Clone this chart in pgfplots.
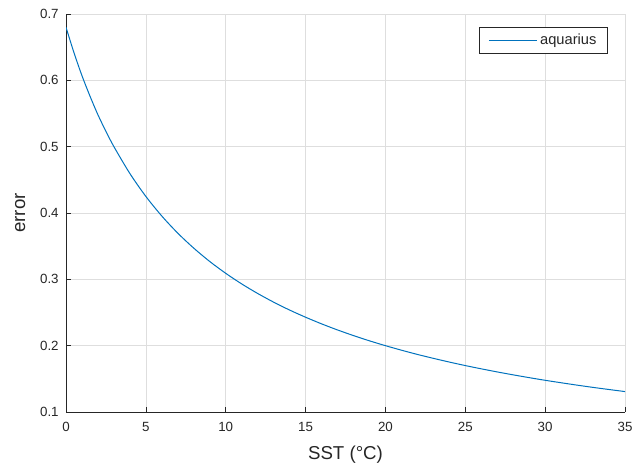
\documentclass[border=0pt]{standalone}
\usepackage{pgfplots}
\pgfplotsset{compat=1.18}
\usepackage{fontspec}
\setmainfont{Liberation Sans}
\definecolor{mblue}{rgb}{0,0.447,0.741}
\definecolor{axgray}{rgb}{0.15,0.15,0.15}
\definecolor{gridgray}{rgb}{0.87,0.87,0.87}
\begin{document}
\begin{tikzpicture}
\begin{axis}[
  scale only axis,
  width=419.25pt, height=298.5pt,
  xmin=0, xmax=35, ymin=0.1, ymax=0.7,
  xtick={0,5,...,35},
  ytick={0.1,0.2,0.3,0.4,0.5,0.6,0.7},
  axis x line*=bottom, axis y line*=left,
  axis line style={axgray, line width=0.6pt},
  tick align=inside,
  major tick length=4pt,
  tick style={axgray, line width=0.5pt},
  grid=major,
  major grid style={gridgray, line width=0.5pt},
  /pgf/number format/assume math mode=true,
  yticklabel style={/pgf/number format/fixed,/pgf/number format/precision=1, xshift=-2pt},
  xticklabel style={yshift=-4pt},
  ticklabel style={font=\fontsize{10}{12}\selectfont, text=axgray},
  xlabel={SST (°C)}, ylabel={error},
  label style={font=\fontsize{14}{16}\selectfont, text=axgray},
  xlabel style={at={(axis description cs:0.5,-0.12)}, anchor=base},
  ylabel style={at={(axis description cs:-0.0733,0.5)}, anchor=base},
  legend style={at={(0.9696,0.967)}, anchor=north east, draw=axgray,
    font=\fontsize{11}{13}\selectfont, text=axgray, inner xsep=6.5pt, inner ysep=3pt},
  legend cell align=left,
  legend image code/.code={\draw[mblue, line width=0.9pt] (0pt,0pt) -- (36pt,0pt);},
]
\coordinate (sw) at (rel axis cs:0,0);
\coordinate (ne) at (rel axis cs:1,1);
\addplot[mblue, line width=0.75pt, smooth] coordinates {
(0,0.680) (0.5,0.6416) (1,0.607) (1.5,0.5763) (2,0.548) (2.5,0.5231) (3,0.500) (4,0.4595) (5,0.425)
(6,0.3954) (7,0.3696) (8,0.3470) (9,0.3269) (10,0.3091) (11,0.2931) (12,0.2787)
(13,0.2656) (14,0.2537) (15,0.2429) (16,0.2329) (17,0.2237) (18,0.2152) (19,0.2073)
(20,0.2000) (21,0.1932) (22,0.1868) (23,0.1809) (24,0.1753) (25,0.1700) (26,0.1651)
(27,0.1604) (28,0.1560) (29,0.1518) (30,0.1478) (31,0.1441) (32,0.1405) (33,0.1371)
(34,0.1339) (35,0.1308)};
\addlegendentry{aquarius}
\end{axis}
\pgfresetboundingbox
\path ([xshift=-49.5pt,yshift=-42pt]sw) rectangle ([xshift=7.5pt,yshift=10.5pt]ne);
\end{tikzpicture}
\end{document}
